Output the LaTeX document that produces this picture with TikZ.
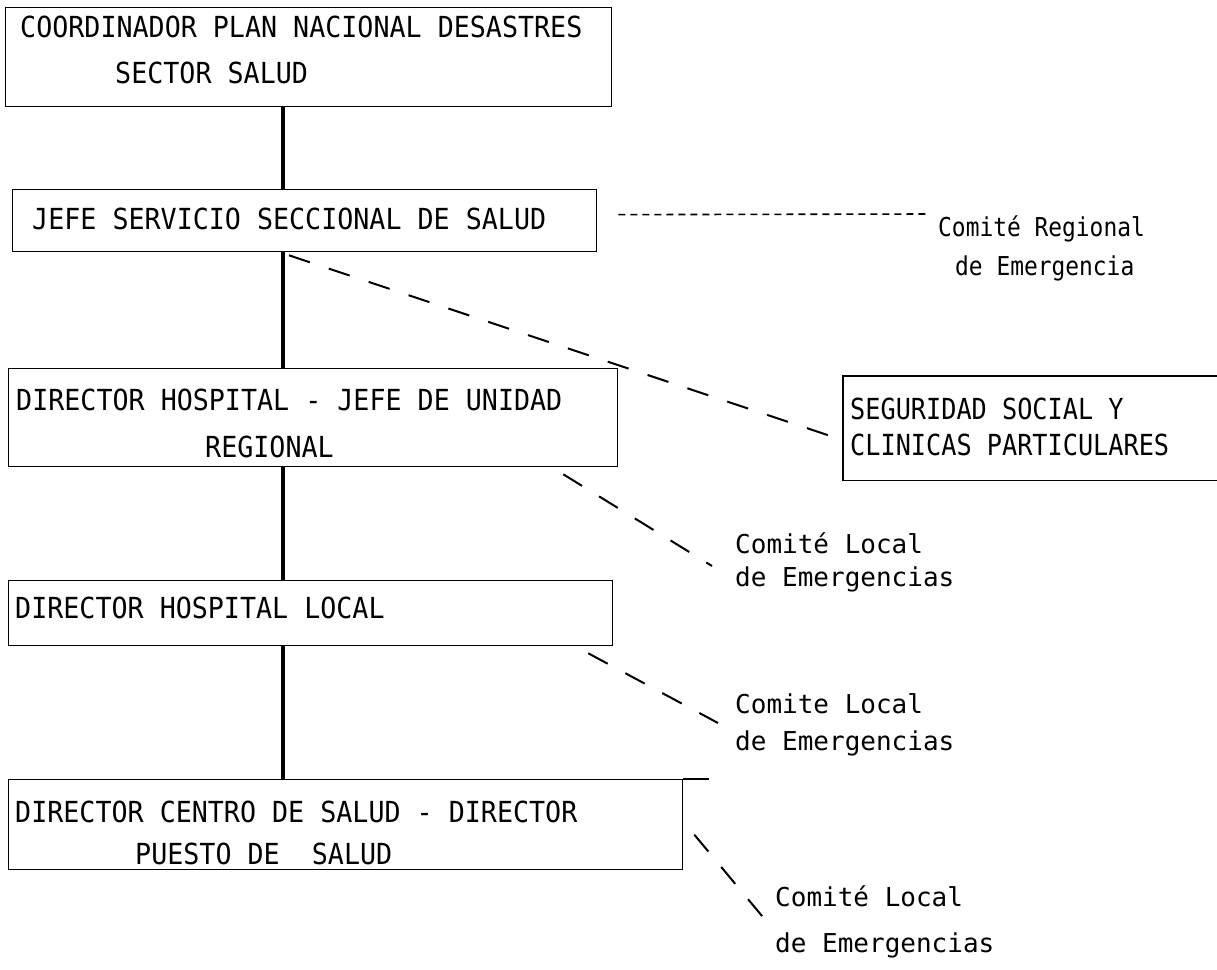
\documentclass[tikz,border=0pt]{standalone}
\usepackage{fontspec}
\usetikzlibrary{calc}
\newfontfamily\tw{DejaVu Sans Mono}[FakeStretch=0.92]
\newfontfamily\twb{DejaVu Sans Mono}[FakeStretch=0.87]
\newfontfamily\twl{DejaVu Sans Mono}
\newfontfamily\twn{DejaVu Sans Mono}[FakeStretch=0.88]
\begin{document}
\begin{tikzpicture}[x=1pt,y=-1pt,
  box/.style={draw, line width=1.3pt, inner sep=0pt, anchor=north west},
  openbox/.style={inner sep=0pt, anchor=north west},
  edge/.style={line width=1.3pt},
  txt/.style={anchor=base west, inner sep=0pt, font=\tw\fontsize{29}{34}\selectfont},
  txtb/.style={anchor=base west, inner sep=0pt, font=\twb\fontsize{29}{34}\selectfont},
  lbl/.style={anchor=base west, inner sep=0pt, font=\twl\fontsize{26}{32}\selectfont},
  lbln/.style={anchor=base west, inner sep=0pt, font=\twn\fontsize{26}{32}\selectfont},
  spine/.style={line width=4pt},
  dashl/.style={line width=2pt, dash pattern=on 22pt off 20pt},
  dashs/.style={line width=1.6pt, dash pattern=on 7pt off 5pt}]
\useasboundingbox (0,0) rectangle (1217,969);
\fill[white] (0,0) rectangle (1217,969);

% boxes
\node[box, minimum width=606pt, minimum height=99pt] (b1) at (5,7) {};
\node[box, minimum width=584pt, minimum height=62pt] (b2) at (12,189) {};
\node[box, minimum width=609pt, minimum height=98pt] (b3) at (8,368) {};
\node[openbox, minimum width=374pt, minimum height=104pt] (b4) at (843,376) {};
\node[box, minimum width=604pt, minimum height=65pt] (b5) at (8,580) {};
\node[box, minimum width=674pt, minimum height=90pt] (b6) at (8,779) {};
\draw[edge] (b4.north east) -- (b4.north west) -- (b4.south west) -- (b4.south east);
\draw[edge] (b6.north east) -- ++(26,0);

% box texts
\node[txt] (t1a) at (20,37) {COORDINADOR PLAN NACIONAL DESASTRES};
\node[txt] (t1b) at (115,83) {SECTOR SALUD};
\node[txt] (t2) at (32,229) {JEFE SERVICIO SECCIONAL DE SALUD};
\node[txt] (t3a) at (16,410) {DIRECTOR HOSPITAL - JEFE DE UNIDAD};
\node[txt] (t3b) at (205,457) {REGIONAL};
\node[txtb] (t4a) at (850,419) {SEGURIDAD SOCIAL Y};
\node[txtb] (t4b) at (850,455) {CLINICAS PARTICULARES};
\node[txt] (t5) at (15,618) {DIRECTOR HOSPITAL LOCAL};
\node[txt] (t6a) at (15,822) {DIRECTOR CENTRO DE SALUD - DIRECTOR};
\node[txt] (t6b) at (135,864) {PUESTO DE~~SALUD};

% side labels
\node[lbln] (c1a) at (938,236) {Comité Regional};
\node[lbln] (c1b) at (955,275) {de Emergencia};
\node[lbl] (c2a) at (735,553) {Comité Local};
\node[lbl] (c2b) at (735,586) {de Emergencias};
\node[lbl] (c3a) at (735,713) {Comite Local};
\node[lbl] (c3b) at (735,750) {de Emergencias};
\node[lbl] (c4a) at (775,906) {Comité Local};
\node[lbl] (c4b) at (775,952) {de Emergencias};

% spine
\coordinate (sp) at (283,0);
\draw[spine] (b1.south -| sp) -- (b2.north -| sp);
\draw[spine] (b2.south -| sp) -- (b3.north -| sp);
\draw[spine] (b3.south -| sp) -- (b5.north -| sp);
\draw[spine] (b5.south -| sp) -- (b6.north -| sp);

% dashed connectors
\coordinate (r1) at (930,214);
\draw[dashs] ([xshift=21pt,yshift=6pt]b2.east) -- (r1);
\draw[dashl] ($(b2.south -| sp)+(6,3)$) -- ([yshift=-12pt]b4.west);
\coordinate (e1) at (712,566);
\draw[dashl] ($(b3.south east)+(-55,7)$) -- (e1);
\coordinate (e2) at (718,723);
\draw[dashl] ($(b5.south east)+(-25,7)$) -- (e2);
\coordinate (e3) at (772,928);
\draw[dashl] ($(b6.east)+(11,10)$) -- (e3);
\end{tikzpicture}
\end{document}
